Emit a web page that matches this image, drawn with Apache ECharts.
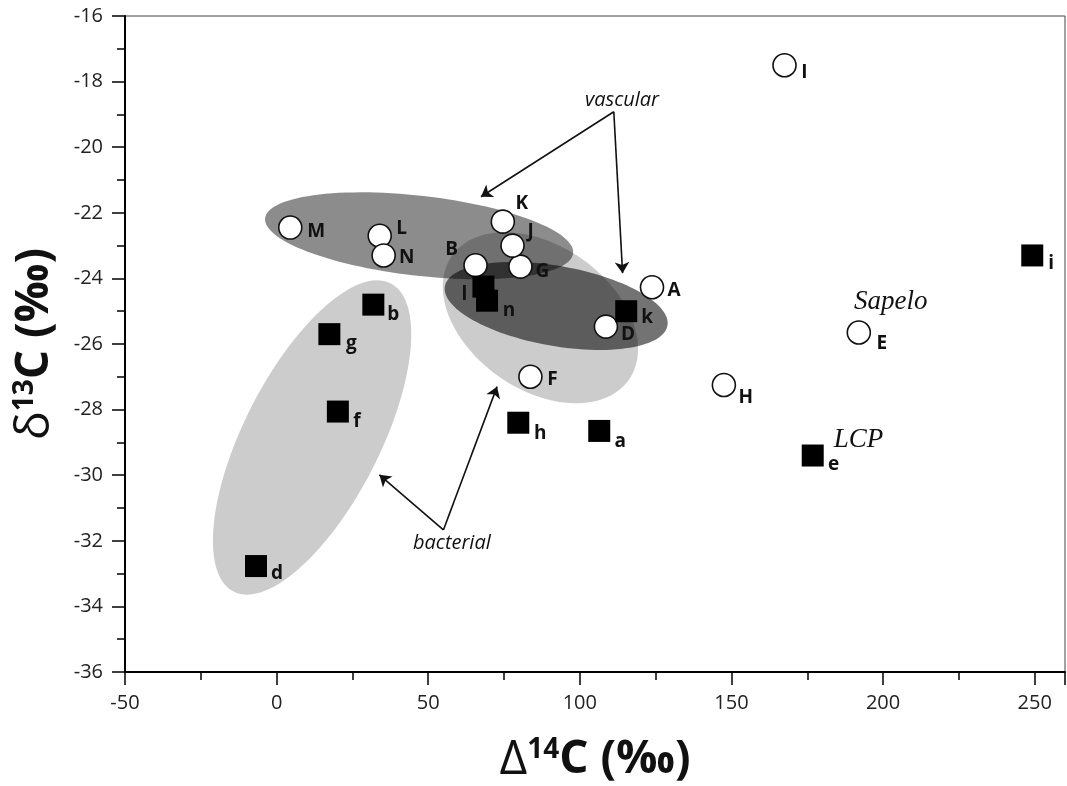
<!DOCTYPE html>
<html>
<head>
<meta charset="utf-8">
<script src="https://cdn.jsdelivr.net/npm/echarts@6/dist/echarts.min.js"></script>
<style>
  html, body { margin: 0; padding: 0; background: #fff; }
  #chart { width: 1067px; height: 786px; }
</style>
</head>
<body>
<div id="chart"></div>
<script>
// open circles (vascular / reference samples)
const circleNames = ['A', 'B', 'D', 'E', 'F', 'G', 'H', 'I', 'J', 'K', 'L', 'M', 'N']
const circleX = [123.8, 65.6, 108.6, 192.0, 83.7, 80.4, 147.5, 167.5, 77.8, 74.6, 34.0, 4.5, 35.3]
const circleY = [-24.27, -23.6, -25.47, -25.65, -27.0, -23.64, -27.25, -17.5, -23.0, -22.27, -22.7, -22.45, -23.3]

// filled squares
const squareNames = ['a', 'b', 'd', 'e', 'f', 'g', 'h', 'i', 'k', 'l', 'n']
const squareX = [106.4, 31.9, -6.8, 176.8, 20.2, 17.4, 79.7, 249.2, 115.3, 68.2, 69.4]
const squareY = [-28.65, -24.8, -32.77, -29.4, -28.06, -25.7, -28.4, -23.3, -25.0, -24.25, -24.68]

// group envelopes: centre in data units
const groupNames = ['bacterial-left', 'bacterial-mid', 'vascular-top', 'vascular-right']
const groupX = [11.7, 87.0, 47.0, 92.2]
const groupY = [-28.85, -25.2, -22.7, -24.84]

// annotation texts
const noteTexts = ['vascular', 'bacterial', 'Sapelo', 'LCP']
const noteX = [113.9, 57.8, 202.5, 191.9]
const noteY = [-18.58, -32.08, -24.72, -28.93]

// arrows: [from, to]
const arrowFrom = [[111.2, -18.92], [111.2, -18.92], [55.0, -31.67], [55.0, -31.67]]
const arrowTo = [[67.4, -21.51], [114.1, -23.84], [33.9, -29.99], [72.7, -27.3]]

// ---- styles ----
const ellipseStyle = [
  { a: 173, b: 68, angle: -63, color: 'rgba(0,0,0,0.2)' },
  { a: 108, b: 72, angle: 35, color: 'rgba(0,0,0,0.2)' },
  { a: 155, b: 40, angle: 6.5, color: 'rgba(0,0,0,0.45)' },
  { a: 113, b: 40, angle: 10, color: 'rgba(0,0,0,0.55)' }
]
const labelOffset = {
  A: [22, 3], B: [-24, -16], D: [22, 8], E: [23, 11], F: [22, 3], G: [22, 5], H: [22, 13],
  I: [20, 7], J: [18, -14], K: [19, -18], L: [22, -7], M: [26, 4], N: [23, 2],
  a: [21, 11], b: [20, 10], d: [21, 8], e: [21, 9], f: [19, 10], g: [22, 9], h: [22, 11],
  i: [19, 8], k: [21, 6], l: [-19, 8], n: [22, 10]
}
const noteStyle = [
  { fontFamily: 'Open Sans', fontStyle: 'italic', fontSize: 20 },
  { fontFamily: 'Open Sans', fontStyle: 'italic', fontSize: 20 },
  { fontFamily: 'Liberation Serif', fontStyle: 'italic', fontSize: 27 },
  { fontFamily: 'Liberation Serif', fontStyle: 'italic', fontSize: 27 }
]

const pointLabel = (name) => ({
  show: true,
  position: 'inside',
  offset: labelOffset[name],
  formatter: name,
  fontFamily: 'Open Sans',
  fontWeight: 'bold',
  fontSize: 19,
  color: '#111'
})

const circleData = circleNames.map((n, i) => ({ value: [circleX[i], circleY[i]], label: pointLabel(n) }))
const squareData = squareNames.map((n, i) => ({ value: [squareX[i], squareY[i]], label: pointLabel(n) }))

const titleRich = {
  d: { fontFamily: 'Open Sans', fontSize: 48, color: '#111' },
  s: { fontFamily: 'Open Sans', fontWeight: 'bold', fontSize: 28, color: '#111', verticalAlign: 'top', padding: [0, 0, 20, 0] },
  t: { fontFamily: 'Open Sans', fontWeight: 'bold', fontSize: 46, color: '#111' }
}

const chart = echarts.init(document.getElementById('chart'))

const option = {
  backgroundColor: '#fff',
  animation: false,
  grid: {
    left: 125,
    right: 2,
    top: 16,
    bottom: 114,
    outerBoundsMode: 'none',
    containLabel: false,
    show: true,
    borderColor: '#444',
    borderWidth: 1
  },
  xAxis: {
    type: 'value',
    min: -50,
    max: 260,
    interval: 50,
    name: '{d|Δ}{s|14}{t|C (‰)}',
    nameLocation: 'middle',
    nameGap: 64,
    nameTextStyle: { rich: titleRich },
    axisLine: { onZero: false, lineStyle: { color: '#000', width: 2 } },
    axisTick: { inside: false, length: 13, lineStyle: { color: '#000', width: 1.5 } },
    minorTick: { show: true, splitNumber: 2, length: 8, lineStyle: { color: '#000', width: 1.5 } },
    splitLine: { show: false },
    axisLabel: {
      margin: 21,
      showMaxLabel: false,
      fontFamily: 'Open Sans',
      fontSize: 20,
      color: '#222'
    }
  },
  yAxis: {
    type: 'value',
    min: -36,
    max: -16,
    interval: 2,
    name: '{d|δ}{s|13}{t|C (‰)}',
    nameLocation: 'middle',
    nameRotate: 90,
    nameGap: 66,
    nameTextStyle: { rich: titleRich },
    axisLine: { onZero: false, lineStyle: { color: '#000', width: 2 } },
    axisTick: { inside: false, length: 13, lineStyle: { color: '#000', width: 1.5 } },
    minorTick: { show: true, splitNumber: 2, length: 8, lineStyle: { color: '#000', width: 1.5 } },
    splitLine: { show: false },
    axisLabel: {
      margin: 22,
      fontFamily: 'Open Sans',
      fontSize: 20,
      color: '#222'
    }
  },
  series: [
    {
      name: 'groups',
      type: 'custom',
      z: 1,
      silent: true,
      data: groupNames.map((n, i) => [groupX[i], groupY[i]]),
      renderItem: (params, api) => {
        const c = api.coord([api.value(0), api.value(1)])
        const e = ellipseStyle[params.dataIndex]
        const rad = e.angle * Math.PI / 180
        const pts = []
        for (let k = 0; k < 120; k++) {
          const t = k / 120 * Math.PI * 2
          const ux = e.a * Math.cos(t)
          const uy = e.b * Math.sin(t)
          pts.push([
            c[0] + ux * Math.cos(rad) - uy * Math.sin(rad),
            c[1] + ux * Math.sin(rad) + uy * Math.cos(rad)
          ])
        }
        return { type: 'polygon', shape: { points: pts }, style: { fill: e.color } }
      }
    },
    {
      name: 'arrows',
      type: 'lines',
      coordinateSystem: 'cartesian2d',
      z: 3,
      symbol: ['none', 'arrow'],
      symbolSize: [0, 11],
      lineStyle: { color: '#111', width: 1.6, opacity: 1 },
      data: arrowFrom.map((f, i) => ({ coords: [f, arrowTo[i]] }))
    },
    {
      name: 'notes',
      type: 'scatter',
      z: 4,
      symbolSize: 0,
      itemStyle: { opacity: 1 },
      data: noteTexts.map((t, i) => ({
        value: [noteX[i], noteY[i]],
        label: Object.assign({ show: true, position: 'inside', formatter: t, color: '#111', opacity: 1 }, noteStyle[i])
      }))
    },
    {
      name: 'circles',
      type: 'scatter',
      z: 5,
      symbol: 'circle',
      symbolSize: 23,
      itemStyle: { color: '#fff', borderColor: '#111', borderWidth: 1.6, opacity: 1 },
      data: circleData
    },
    {
      name: 'squares',
      type: 'scatter',
      z: 5,
      symbol: 'rect',
      symbolSize: 22,
      itemStyle: { color: '#000', opacity: 1 },
      data: squareData
    }
  ]
}

chart.setOption(option)
</script>
</body>
</html>
